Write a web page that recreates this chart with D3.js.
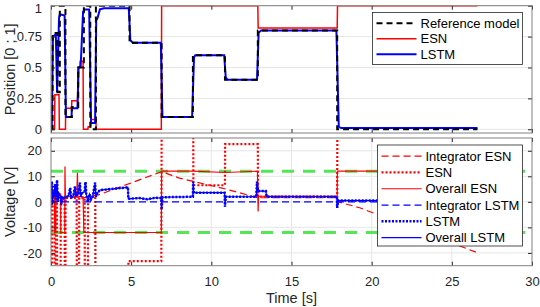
<!DOCTYPE html>
<html><head><meta charset="utf-8">
<script src="https://cdn.jsdelivr.net/npm/d3@7"></script>
<style>
body{margin:0;background:#fff;}
svg{display:block;font-family:"Liberation Sans",Arial,Helvetica,sans-serif;}
</style></head>
<body><div id="chart"></div>
<script>
// ---------- DATA ----------
const xTicks = [0,5,10,15,20,25,30];
const posTicks = [0,0.25,0.5,0.75,1];
const posTickLabels = ["0","0.25","0.5","0.75","1"];
const voltTicks = [-20,-10,0,10,20];
const voltTickLabels = ["-20","-10","0","10","20"];

// top panel: [time, position]
const refModel = [[0,0],[0.1,0.78],[0.4,0.3],[0.55,1.0],[0.9,0.1],[1.3,0.18],[1.7,0.5],[2.05,1.0],[2.45,0.0],[2.8,1.0],[4.9,0.7],[6.9,0.1],[8.85,0.6],[10.85,0.4],[12.9,0.8],[17.85,0.0],[26.6,0.0]];
const esnPos = [[0,0],[0.22,0],[0.24,0.28],[0.5,0.28],[0.52,0],[0.9,0],[0.92,0.17],[1.28,0.17],[1.3,0.23],[1.66,0.23],[1.68,0.5],[1.8,0.5],[1.82,0.55],[2.0,0.55],[2.02,0],[2.3,0],[2.32,0.02],[2.48,0.02],[2.5,0.08],[2.8,0.08],[2.82,0],[6.88,0],[6.9,1.0],[12.9,1.0],[12.92,0.82],[17.85,0.82],[17.87,1.0],[26.6,1.0]];
const lstmPos = [[0,0],[0.05,0.02],[0.12,0.75],[0.3,0.77],[0.38,0.3],[0.5,0.9],[0.55,0.93],[0.85,0.92],[0.93,0.1],[1.28,0.1],[1.3,0.17],[1.65,0.17],[1.72,0.5],[1.85,0.51],[2.0,0.95],[2.1,0.97],[2.38,0.97],[2.5,0.05],[2.75,0.05],[2.82,0.88],[2.9,0.9],[3.05,0.97],[3.3,0.98],[4.85,0.98],[4.95,0.72],[5.1,0.7],[6.85,0.7],[6.95,0.1],[8.8,0.1],[8.92,0.58],[9.0,0.6],[10.8,0.6],[10.9,0.42],[11.0,0.4],[12.85,0.4],[12.95,0.78],[13.1,0.8],[17.8,0.8],[17.95,0.02],[18.1,0.01],[26.6,0.01]];

// bottom panel: [time, voltage]
const voltLimits = [-12, 12];
const integratorESN = [[0,0],[0.3,1],[0.6,0.5],[1.0,1.5],[1.5,2],[2.0,1.5],[2.5,2.5],[2.95,2.7],[6.9,11.8],[8.0,9.3],[10.9,5.0],[12.9,1.6],[17.85,1.6],[17.9,0],[19.25,-2.3],[26.5,-19.7]];
const esnVolt = [[0,-30],[0.06,-30],[0.07,4],[0.22,4],[0.23,-30],[0.3,-30],[0.31,3],[0.37,3],[0.38,-30],[0.6,-30],[0.61,2],[0.85,2],[0.86,-30],[0.9,-30],[0.91,1.5],[1.6,1.5],[1.61,-30],[1.75,-30],[1.76,1.5],[2.1,1.5],[2.11,-30],[2.3,-30],[2.31,2],[2.76,2],[2.77,-30],[4.82,-30],[4.83,-23.2],[6.88,-23.2],[6.9,30],[8.87,30],[8.88,6.5],[10.85,6.5],[10.86,22.6],[12.9,22.6],[12.91,2.0],[17.85,2.0],[17.86,30],[26.6,30]];
const overallESN = [[0,-2],[0.06,-2],[0.07,6],[0.22,6],[0.23,-12],[0.3,-12],[0.31,3],[0.6,3],[0.61,-12],[0.86,-12],[0.87,13.8],[0.9,2],[1.6,2],[1.65,11.4],[1.68,2],[2.0,2],[2.05,-12],[6.88,-12],[6.9,12],[8.87,12],[10.85,11.5],[12.88,12],[12.9,2.2],[12.92,-3.8],[12.94,2.2],[17.85,2.2],[17.86,12],[26.6,12]];
const integratorLSTM = [[0,0],[20.4,0]];
const lstmVolt = [[0,3],[0.05,8],[0.08,-1],[0.12,4],[0.2,2],[0.25,7],[0.3,1],[0.38,8.5],[0.42,0],[0.5,3],[0.6,2],[0.65,-1],[0.7,2],[0.8,1.5],[1.0,2],[1.1,2.5],[1.2,5.5],[1.25,1.5],[1.4,2.5],[1.5,6],[1.55,2.5],[1.7,3],[1.8,7.5],[1.85,2],[1.95,3.5],[2.1,4],[2.15,7.8],[2.2,3],[2.3,0],[2.4,3],[2.5,1],[2.6,2],[2.75,7.5],[2.8,2],[2.9,3.5],[3.05,4.6],[4.8,5.7],[4.82,1.2],[5.5,1.5],[6.0,1.0],[6.5,1.6],[6.88,1.5],[6.9,-3],[6.95,1.8],[8.85,2.0],[8.87,7.9],[8.9,3.6],[10.83,3.6],[10.85,-1.9],[10.9,2.0],[12.8,2.0],[12.85,7.9],[12.9,4.2],[13.4,4.2],[13.45,2.0],[17.83,2.0],[17.85,-2.4],[17.9,0.5],[20.4,0.5]];
const overallLSTM = lstmVolt;

const topLegend = ["Reference model","ESN","LSTM"];
const botLegend = ["Integrator ESN","ESN","Overall ESN","Integrator LSTM","LSTM","Overall LSTM"];

// ---------- CHART ----------
const W=540,H=307;
const svg=d3.select("#chart").append("svg").attr("width",W).attr("height",H);
const x=d3.scaleLinear().domain([0,30]).range([51,532]);
const yTop=d3.scaleLinear().domain([-0.03,1]).range([133,5.7]);
const yBot=d3.scaleLinear().domain([-25,25]).range([265.7,138]);
const axisCol="#262626", gridCol="#e6e6e6", boxCol="#808080";
const tickFont=13;

function panel(id,y,ticks,vgrid){
  const g=svg.append("g");
  const [x0,x1]=x.range(), [y0,y1]=y.range();
  g.append("rect").attr("x",x0).attr("y",y1).attr("width",x1-x0).attr("height",y0-y1).attr("fill","#fff");
  g.selectAll(".hg").data(ticks).enter().append("line")
    .attr("x1",x0).attr("x2",x1).attr("y1",d=>y(d)).attr("y2",d=>y(d))
    .attr("stroke",gridCol).attr("stroke-width",1);
  if(vgrid){
    g.selectAll(".vg").data(xTicks.slice(1,-1)).enter().append("line")
      .attr("y1",y0).attr("y2",y1).attr("x1",d=>x(d)).attr("x2",d=>x(d))
      .attr("stroke",gridCol).attr("stroke-width",1);
  }
  svg.append("clipPath").attr("id",id).append("rect")
    .attr("x",x0).attr("y",y1).attr("width",x1-x0).attr("height",y0-y1);
  const plot=svg.append("g").attr("clip-path",`url(#${id})`);
  return {g,plot,x0,x1,y0,y1};
}
function frame(p,y,ticks,labels,xlabels){
  const {x0,x1,y0,y1}=p;
  const fg=svg.append("g");
  const yl=d3.axisLeft(y).tickValues(ticks).tickFormat((d,i)=>labels[i]).tickSizeInner(-4).tickSizeOuter(0).tickPadding(9);
  const ya=fg.append("g").attr("transform",`translate(${x0},0)`).call(yl);
  const yr=d3.axisRight(y).tickValues(ticks).tickFormat("").tickSizeInner(-4).tickSizeOuter(0);
  const yra=fg.append("g").attr("transform",`translate(${x1},0)`).call(yr);
  const xb=d3.axisBottom(x).tickValues(xTicks).tickFormat(xlabels?d3.format("d"):"").tickSizeInner(-4).tickSizeOuter(0).tickPadding(11);
  const xba=fg.append("g").attr("transform",`translate(0,${y0})`).call(xb);
  const xt=d3.axisTop(x).tickValues(xTicks).tickFormat("").tickSizeInner(-4).tickSizeOuter(0);
  const xta=fg.append("g").attr("transform",`translate(0,${y1})`).call(xt);
  [ya,yra,xba,xta].forEach(a=>{
    a.select(".domain").remove();
    a.selectAll("line").attr("stroke",axisCol);
    a.selectAll("text").attr("fill",axisCol).style("font-size",tickFont+"px").style("font-family","inherit");
  });
  // keep the topmost label inside the picture
  ya.selectAll(".tick text").filter(d=>y(d)<12).attr("dy","0.5em");
  fg.append("rect").attr("x",x0).attr("y",y1).attr("width",x1-x0).attr("height",y0-y1)
    .attr("fill","none").attr("stroke",boxCol).attr("stroke-width",1);
}

const line=(y)=>d3.line().x(d=>x(d[0])).y(d=>y(d[1]));

// TOP
const pt=panel("cTop",yTop,posTicks,false);
pt.plot.append("path").datum(esnPos).attr("d",line(yTop)).attr("fill","none").attr("stroke","#ff0000").attr("stroke-width",1.5);
pt.plot.append("path").datum(lstmPos).attr("d",line(yTop)).attr("fill","none").attr("stroke","#0000ff").attr("stroke-width",2);
pt.plot.append("path").datum(refModel).attr("d",line(yTop).curve(d3.curveStepAfter)).attr("fill","none").attr("stroke","#000").attr("stroke-width",2).attr("stroke-dasharray","6,4");
frame(pt,yTop,posTicks,posTickLabels,false);

// BOTTOM
const pb=panel("cBot",yBot,voltTicks,true);
voltLimits.forEach(v=>{
  pb.plot.append("path").datum([[0,v],[30,v]]).attr("d",line(yBot)).attr("fill","none")
   .attr("stroke","#55e655").attr("stroke-width",3).attr("stroke-dasharray","12,9");
});
pb.plot.append("path").datum(integratorESN).attr("d",line(yBot)).attr("fill","none").attr("stroke","#ff0000").attr("stroke-width",1.2).attr("stroke-dasharray","7,4");
pb.plot.append("path").datum(esnVolt).attr("d",line(yBot)).attr("fill","none").attr("stroke","#ff0000").attr("stroke-width",2.2).attr("stroke-dasharray","2,2");
pb.plot.append("path").datum(overallESN).attr("d",line(yBot)).attr("fill","none").attr("stroke","#ff0000").attr("stroke-width",1.2);
pb.plot.append("path").datum(integratorLSTM).attr("d",line(yBot)).attr("fill","none").attr("stroke","#0000ff").attr("stroke-width",1.2).attr("stroke-dasharray","7,4");
pb.plot.append("path").datum(lstmVolt).attr("d",line(yBot)).attr("fill","none").attr("stroke","#0000ff").attr("stroke-width",2.5).attr("stroke-dasharray","2,1.5");
pb.plot.append("path").datum(overallLSTM).attr("d",line(yBot)).attr("fill","none").attr("stroke","#0000ff").attr("stroke-width",1.2);
frame(pb,yBot,voltTicks,voltTickLabels,true);

// axis labels
svg.append("text").attr("transform",`translate(15,${(pt.y0+pt.y1)/2}) rotate(-90)`).attr("text-anchor","middle")
  .style("font-size","14.5px").attr("fill",axisCol).text("Position [0 ; 1]");
svg.append("text").attr("transform",`translate(15,${(pb.y0+pb.y1)/2}) rotate(-90)`).attr("text-anchor","middle")
  .style("font-size","14.5px").attr("fill",axisCol).text("Voltage [V]");
svg.append("text").attr("x",(x(0)+x(30))/2).attr("y",303).attr("text-anchor","middle")
  .style("font-size","14.5px").attr("fill",axisCol).text("Time [s]");

// legends
function legend(x0,y0,w,h,items,styles,dy){
  const g=svg.append("g");
  g.append("rect").attr("x",x0).attr("y",y0).attr("width",w).attr("height",h).attr("fill","#fff").attr("stroke","#262626").attr("stroke-width",0.8);
  items.forEach((t,i)=>{
    const yy=y0+dy/2+3+i*dy;
    const s=styles[i];
    g.append("line").attr("x1",x0+4).attr("x2",x0+44).attr("y1",yy).attr("y2",yy)
      .attr("stroke",s.c).attr("stroke-width",s.w).attr("stroke-dasharray",s.d||null);
    g.append("text").attr("x",x0+48).attr("y",yy+4.5).style("font-size","13px").attr("fill","#000").text(t);
  });
}
legend(372.5,12.5,150,52,topLegend,[{c:"#000",w:2,d:"6,4"},{c:"#ff0000",w:1.5},{c:"#0000ff",w:2}],15.5);
legend(377.5,145,145,101,botLegend,[{c:"#ff0000",w:1.2,d:"7,4"},{c:"#ff0000",w:2.2,d:"2,2"},{c:"#ff0000",w:1.2},{c:"#0000ff",w:1.2,d:"7,4"},{c:"#0000ff",w:2.5,d:"2,1.5"},{c:"#0000ff",w:1.2}],16.3);
</script>
</body></html>
